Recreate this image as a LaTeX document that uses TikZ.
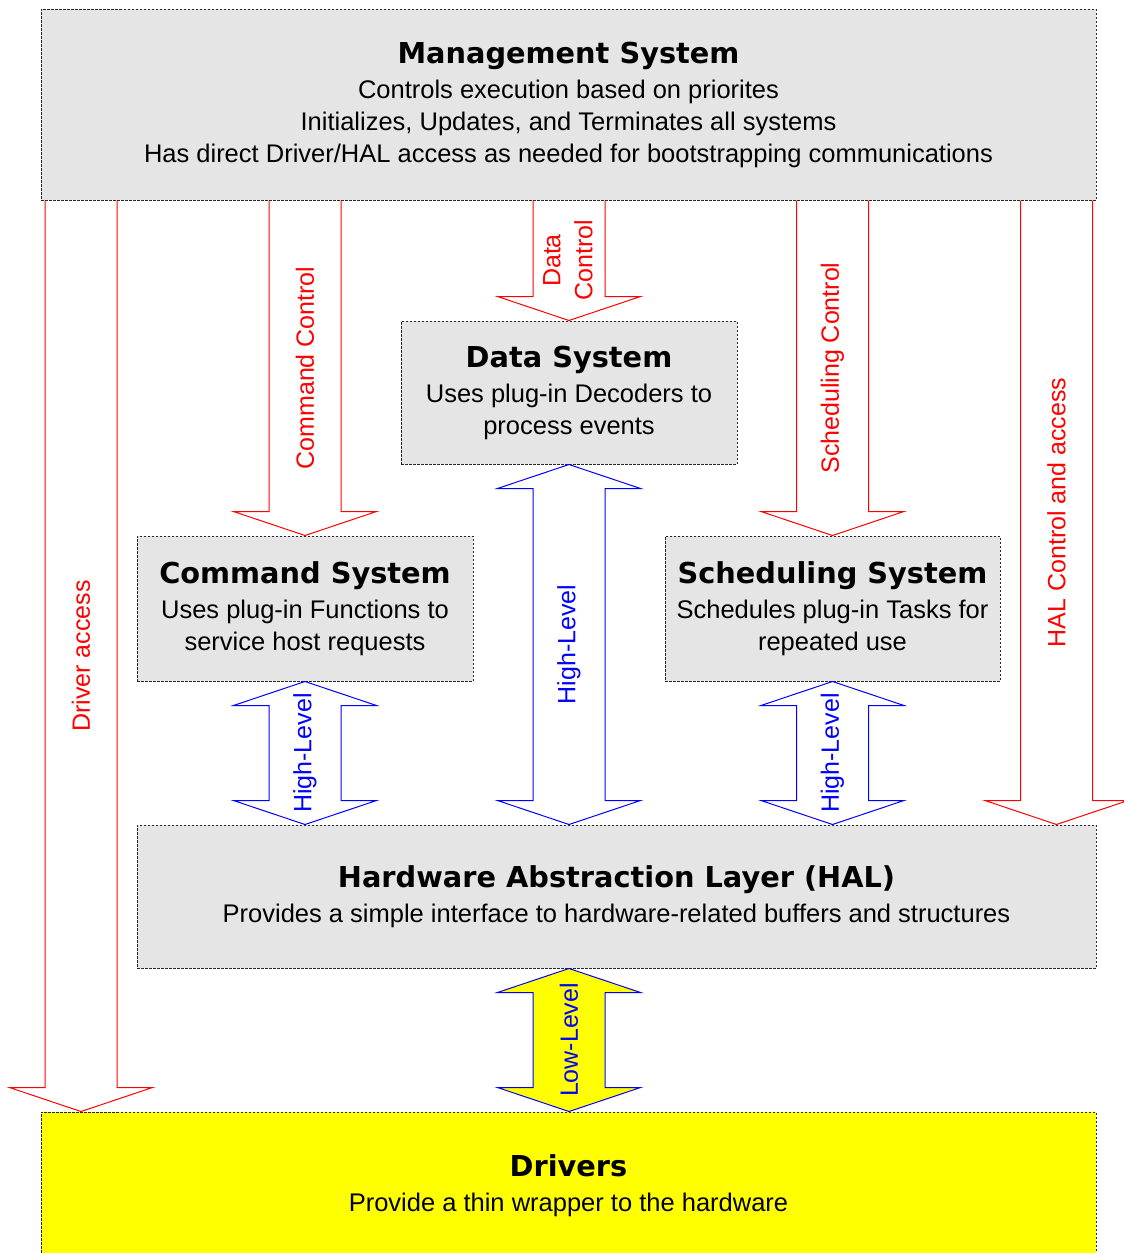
\documentclass[tikz,border=0pt]{standalone}
\usepackage{fontspec}
\setmainfont{Liberation Sans}
\newfontfamily\titlefont{DejaVu Sans}
\usetikzlibrary{calc}
\definecolor{boxgray}{RGB}{229,229,229}
\definecolor{yel}{RGB}{255,255,0}
\definecolor{rd}{RGB}{255,0,0}
\definecolor{bl}{RGB}{0,0,255}
\newcommand{\ttl}[1]{{\titlefont\bfseries\fontsize{28.8}{34}\selectfont #1}}
\newcommand{\blkdown}[3]{%
  \draw[#1] let \p1=(#2), \p2=(#3) in
    (\x2-36pt,\y1) -- (\x2-36pt,\y2+24pt) -- (\x2-71.5pt,\y2+24pt) -- (\x2,\y2)
    -- (\x2+71.5pt,\y2+24pt) -- (\x2+36pt,\y2+24pt) -- (\x2+36pt,\y1);}
\newcommand{\blkdouble}[3]{%
  \draw[#1] let \p1=(#2), \p2=(#3) in
    (\x1,\y1) -- (\x1+71.5pt,\y1-24pt) -- (\x1+36pt,\y1-24pt) -- (\x1+36pt,\y2+24pt)
    -- (\x1+71.5pt,\y2+24pt) -- (\x1,\y2) -- (\x1-71.5pt,\y2+24pt) -- (\x1-36pt,\y2+24pt)
    -- (\x1-36pt,\y1-24pt) -- (\x1-71.5pt,\y1-24pt) -- cycle;}
\begin{document}
\begin{tikzpicture}[x=1pt,y=-1pt,
  box/.style={draw=black!85, dash pattern=on 2.5pt off 1.5pt, line width=1pt,
    fill=boxgray, inner sep=0pt, align=center, font=\fontsize{25.5}{32}\selectfont},
  redarr/.style={draw=rd, line width=1pt, line join=miter},
  bluearr/.style={draw=bl, line width=1pt, line join=miter},
  lowarr/.style={draw=bl, fill=yel, line width=1pt, line join=miter},
  lbl/.style={rotate=90, inner sep=0pt, align=center, font=\fontsize{25}{32}\selectfont}]
\useasboundingbox (0,0) rectangle (1124,1253);
\clip (0,0) rectangle (1124,1253);
\fill[white] (0,0) rectangle (1124,1253);

\node[box, minimum width=1055pt, minimum height=191pt] (mgmt) at (568.5,104.5)
  {\ttl{Management System}\\[3pt]Controls execution based on priorites\\Initializes, Updates, and Terminates all systems\\Has direct Driver/HAL access as needed for bootstrapping communications};
\node[box, minimum width=336pt, minimum height=143pt] (data) at (569,392.5)
  {\ttl{Data System}\\[3pt]Uses plug-in Decoders to\\process events};
\node[box, minimum width=336pt, minimum height=145pt] (cmd) at (305,608.5)
  {\ttl{Command System}\\[3pt]Uses plug-in Functions to\\service host requests};
\node[box, minimum width=335pt, minimum height=145pt] (sch) at (832.5,608.5)
  {\ttl{Scheduling System}\\[3pt]Schedules plug-in Tasks for\\repeated use};
\node[box, minimum width=959pt, minimum height=143pt] (hal) at (616.5,896.5)
  {\ttl{Hardware Abstraction Layer (HAL)}\\[3pt]Provides a simple interface to hardware-related buffers and structures};
\node[box, fill=yel, minimum width=1055pt, minimum height=148pt] (drv) at (568.5,1186)
  {\ttl{Drivers}\\[3pt]Provide a thin wrapper to the hardware};

% free ends of the side arrows
\coordinate (datip) at ($(drv.north west)+(40.5,0)$);
\coordinate (datop) at (datip |- mgmt.south);
\coordinate (haltip) at ($(hal.north east)+(-40,0)$);
\coordinate (haltop) at (haltip |- mgmt.south);

% red control arrows
\blkdown{redarr}{datop}{datip}
\blkdown{redarr}{cmd.north |- mgmt.south}{cmd.north}
\blkdown{redarr}{data.north |- mgmt.south}{data.north}
\blkdown{redarr}{sch.north |- mgmt.south}{sch.north}
\blkdown{redarr}{haltop}{haltip}

% blue level arrows
\blkdouble{bluearr}{cmd.south}{cmd.south |- hal.north}
\blkdouble{bluearr}{data.south}{data.south |- hal.north}
\blkdouble{bluearr}{sch.south}{sch.south |- hal.north}
\blkdouble{lowarr}{data.south |- hal.south}{data.south |- drv.north}

% labels
\node[lbl, rd] (lda) at ($(datop)!0.5!(datip)$) {Driver access};
\node[lbl, rd] (lcc) at ($(cmd.north |- mgmt.south)!0.5!(cmd.north)$) {Command Control};
\node[lbl, rd] (ldc) at ($(data.north |- mgmt.south)!0.5!(data.north)+(-1,0)$) {Data\\Control};
\node[lbl, rd] (lsc) at ($(sch.north |- mgmt.south)!0.5!(sch.north)$) {Scheduling Control};
\node[lbl, rd] (lhc) at ($(haltop)!0.5!(haltip)$) {HAL Control and access};
\node[lbl, bl] (lh1) at ($(cmd.south)!0.5!(cmd.south |- hal.north)$) {High-Level};
\node[lbl, bl] (lh2) at ($(data.south)!0.5!(data.south |- hal.north)$) {High-Level};
\node[lbl, bl] (lh3) at ($(sch.south)!0.5!(sch.south |- hal.north)$) {High-Level};
\node[lbl, bl] (lll) at ($(data.south |- hal.south)!0.5!(data.south |- drv.north)$) {Low-Level};
\end{tikzpicture}
\end{document}
